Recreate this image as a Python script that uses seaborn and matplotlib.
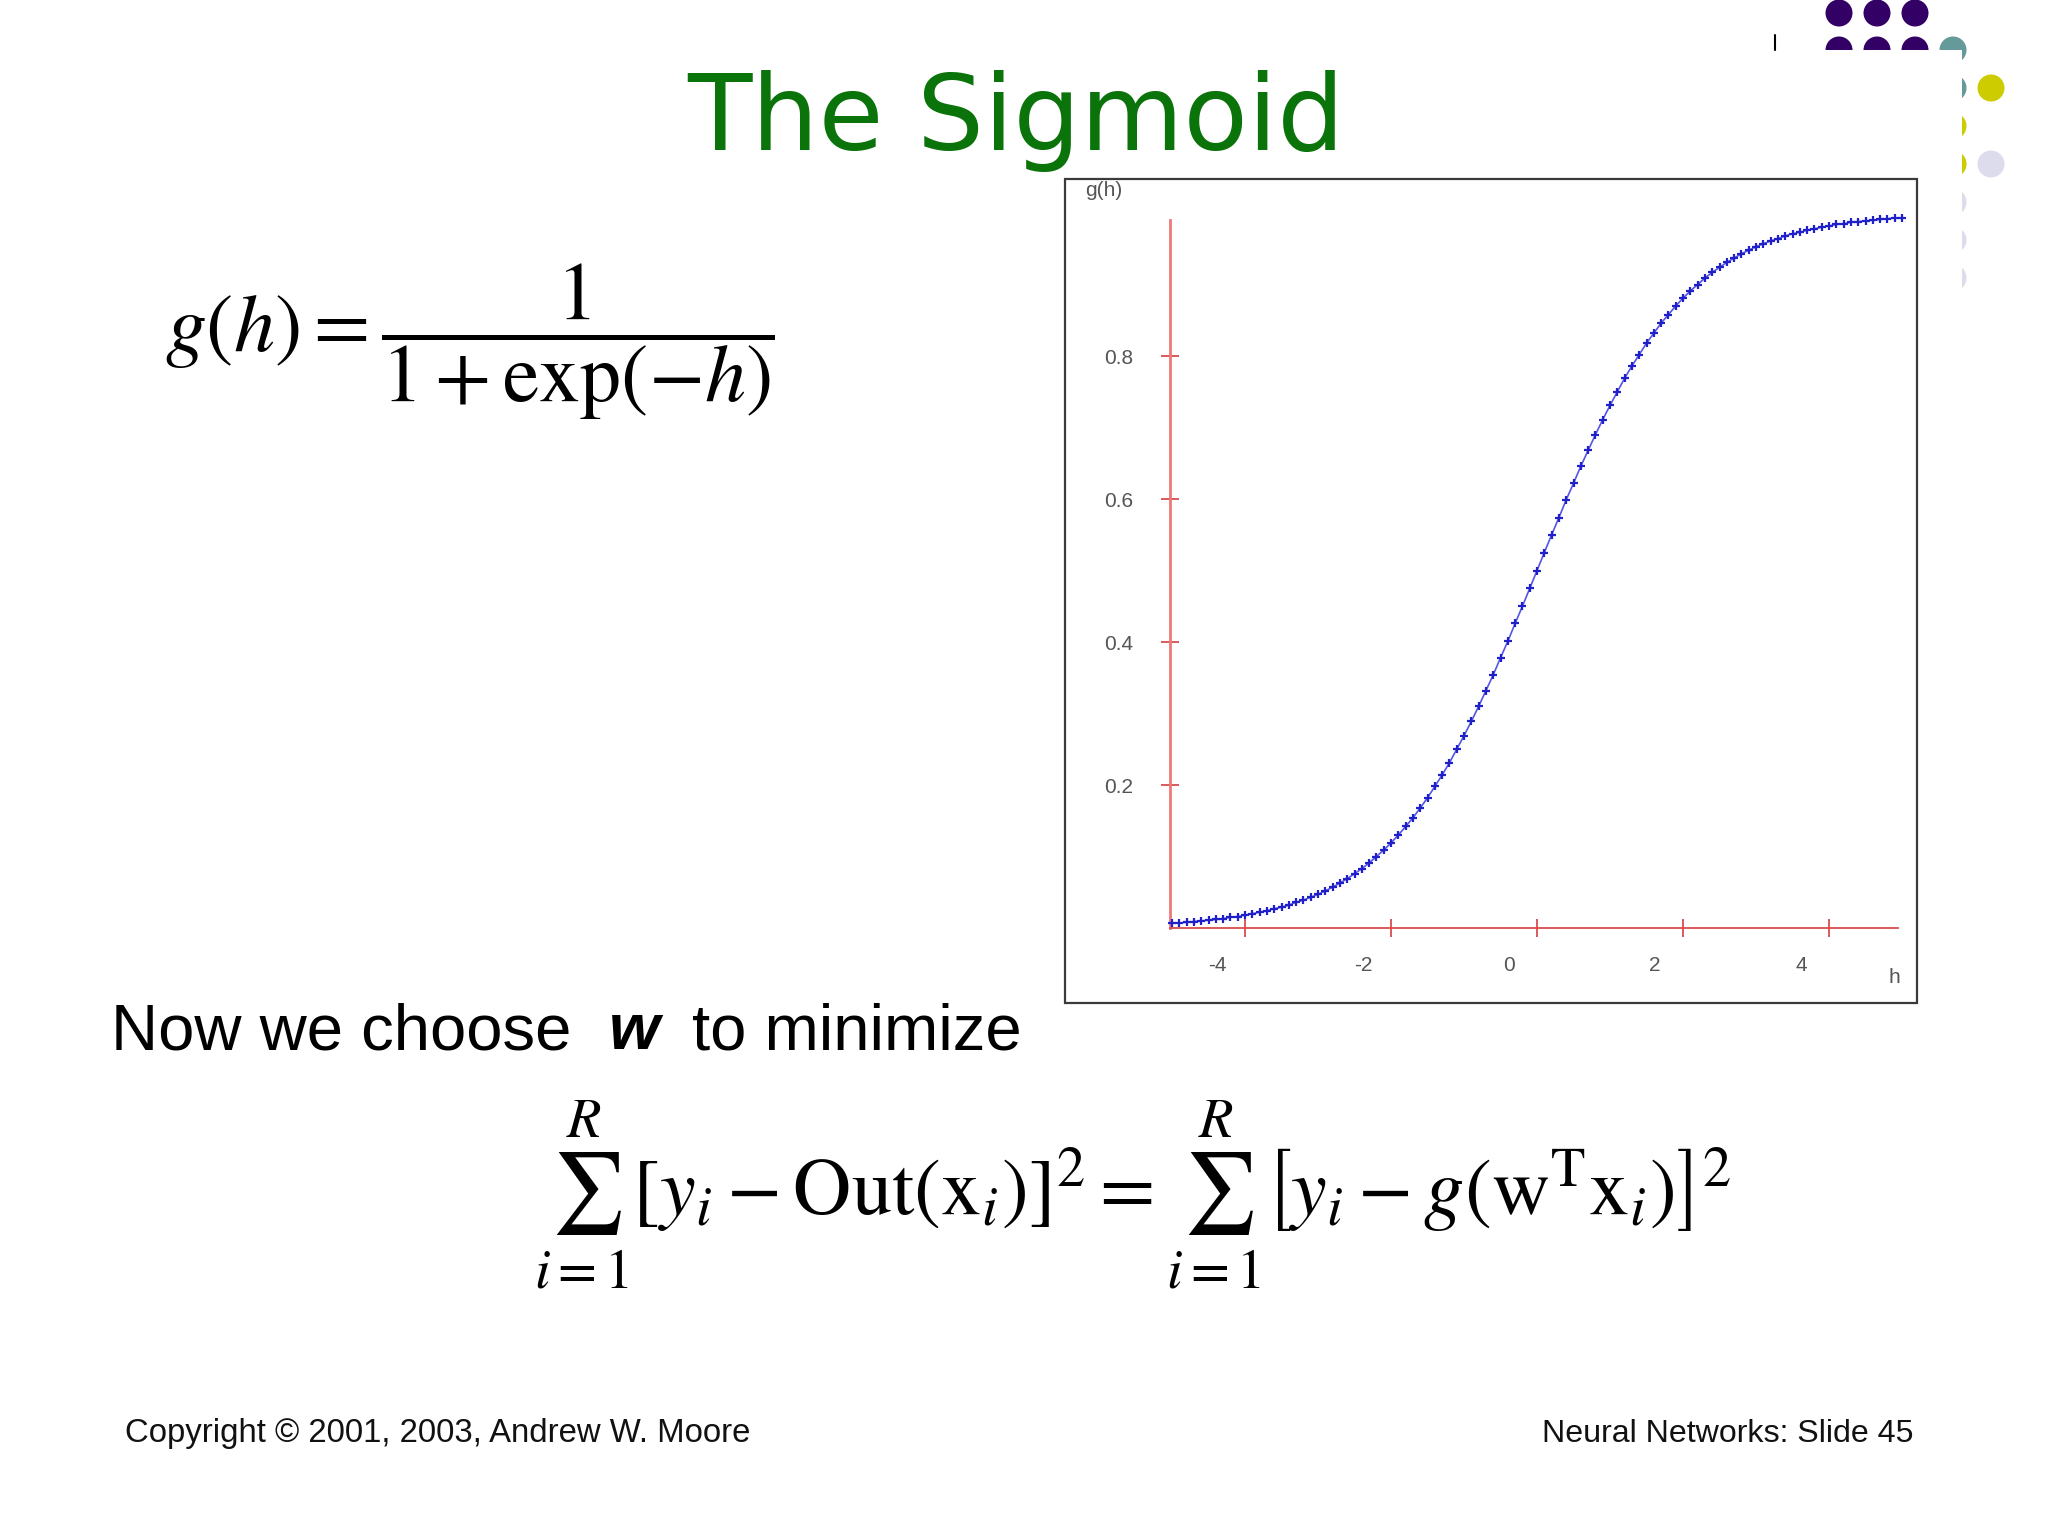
import numpy as np
import pandas as pd
import seaborn as sns
import matplotlib
matplotlib.use('Agg')
import matplotlib.pyplot as plt
from matplotlib.patches import Circle, Rectangle
from matplotlib.transforms import ScaledTranslation

# sigmoid curve, h = -5 .. 5 in steps of 0.1
h_vals = [-5.0, -4.9, -4.8, -4.7, -4.6, -4.5, -4.4, -4.3, -4.2, -4.1,
          -4.0, -3.9, -3.8, -3.7, -3.6, -3.5, -3.4, -3.3, -3.2, -3.1,
          -3.0, -2.9, -2.8, -2.7, -2.6, -2.5, -2.4, -2.3, -2.2, -2.1,
          -2.0, -1.9, -1.8, -1.7, -1.6, -1.5, -1.4, -1.3, -1.2, -1.1,
          -1.0, -0.9, -0.8, -0.7, -0.6, -0.5, -0.4, -0.3, -0.2, -0.1,
          0.0, 0.1, 0.2, 0.3, 0.4, 0.5, 0.6, 0.7, 0.8, 0.9,
          1.0, 1.1, 1.2, 1.3, 1.4, 1.5, 1.6, 1.7, 1.8, 1.9,
          2.0, 2.1, 2.2, 2.3, 2.4, 2.5, 2.6, 2.7, 2.8, 2.9,
          3.0, 3.1, 3.2, 3.3, 3.4, 3.5, 3.6, 3.7, 3.8, 3.9,
          4.0, 4.1, 4.2, 4.3, 4.4, 4.5, 4.6, 4.7, 4.8, 4.9, 5.0]
g_vals = [0.007, 0.007, 0.008, 0.009, 0.010, 0.011, 0.012, 0.013, 0.015, 0.016,
          0.018, 0.020, 0.022, 0.024, 0.027, 0.029, 0.032, 0.036, 0.039, 0.043,
          0.047, 0.052, 0.057, 0.063, 0.069, 0.076, 0.083, 0.091, 0.100, 0.109,
          0.119, 0.130, 0.142, 0.154, 0.168, 0.182, 0.198, 0.214, 0.231, 0.250,
          0.269, 0.289, 0.310, 0.332, 0.354, 0.378, 0.401, 0.426, 0.450, 0.475,
          0.500, 0.525, 0.550, 0.574, 0.599, 0.622, 0.646, 0.668, 0.690, 0.711,
          0.731, 0.750, 0.769, 0.786, 0.802, 0.818, 0.832, 0.846, 0.858, 0.870,
          0.881, 0.891, 0.900, 0.909, 0.917, 0.924, 0.931, 0.937, 0.943, 0.948,
          0.953, 0.957, 0.961, 0.964, 0.968, 0.971, 0.973, 0.976, 0.978, 0.980,
          0.982, 0.984, 0.985, 0.987, 0.988, 0.989, 0.990, 0.991, 0.992, 0.993, 0.993]

x_ticks = [-4, -2, 0, 2, 4]
x_labels = ['-4', '-2', '0', '2', '4']
y_ticks = [0.2, 0.4, 0.6, 0.8]
y_labels = ['0.2', '0.4', '0.6', '0.8']

title = 'The Sigmoid'
footer_left = 'Copyright \u00a9 2001, 2003, Andrew W. Moore'
footer_right = 'Neural Networks: Slide 45'

sns.set_style('white')
plt.rcParams['font.family'] = ['Liberation Sans', 'DejaVu Sans']
plt.rcParams['mathtext.fontset'] = 'stix'
plt.rcParams['axes.unicode_minus'] = False
plt.rcParams['text.color'] = 'black'

fig = plt.figure(figsize=(20.48, 15.36), dpi=100)

# slide background, in pixel coords
bg = fig.add_axes([0, 0, 1, 1])
bg.set_xlim(0, 2048)
bg.set_ylim(1536, 0)
bg.axis('off')

# corner dots
purple, teal, yellow, lav = '#330066', '#669999', '#cccc00', '#dcdcec'
cols = [1839, 1877, 1915, 1953, 1991]
rows = [13, 50, 88, 126, 164, 202, 240, 278]
dots = [(0, 0, purple), (1, 0, purple), (2, 0, purple),
        (0, 1, purple), (1, 1, purple), (2, 1, purple), (3, 1, teal),
        (3, 2, teal), (4, 2, yellow), (3, 3, yellow),
        (3, 4, yellow), (4, 4, lav), (3, 5, lav), (3, 6, lav), (3, 7, lav)]
for c, r, col in dots:
    bg.add_patch(Circle((cols[c], rows[r]), 13.5, color=col, lw=0))
bg.add_patch(Rectangle((0, 50), 1962, 1500, color='white', lw=0))
bg.plot([1775, 1775], [35, 50], color='black', lw=1.5)

bg.text(1016, 150, title, ha='center', va='baseline', fontsize=76,
        color='#0a730a', family='DejaVu Sans')

bg.text(165, 342, r'$g(h)=\dfrac{1}{1+\exp(-h)}$', fontsize=59,
        ha='left', va='center')

bg.text(111, 1049, 'Now we choose', fontsize=47, va='baseline')
bg.text(609, 1049, 'w', fontsize=47, va='baseline', fontweight='bold', style='italic')
bg.text(692, 1049, 'to minimize', fontsize=47, va='baseline')

bg.text(1133, 1195,
        r'$\sum_{i=1}^{R}\left[y_i-\mathrm{Out}(\mathrm{x}_i)\right]^2'
        r'=\sum_{i=1}^{R}\left[y_i-g(\mathrm{w}^{\mathrm{T}}\mathrm{x}_i)\right]^2$',
        ha='center', va='center', fontsize=58)

bg.text(125, 1442, footer_left, fontsize=23.7, va='baseline', color='#111111')
bg.text(1913, 1442, footer_right, fontsize=23.1, va='baseline', ha='right', color='#111111')

# the plot box
ax = fig.add_axes([1065 / 2048, 1 - 1003 / 1536, 852 / 2048, 824 / 1536])
ax.set_facecolor('white')
df = pd.DataFrame({'h': h_vals, 'g': g_vals})
sns.lineplot(data=df, x='h', y='g', ax=ax, color='#2a2ae0', lw=1.2, alpha=0.8)
sns.scatterplot(data=df, x='h', y='g', ax=ax, marker='+', s=30,
                color='#2020c8', linewidth=1.6, zorder=3)

ax.set_xlim(-6.466, 5.205)
ax.set_ylim(-0.1049, 1.0476)
ax.set_xlabel('')
ax.set_ylabel('')

for side in ['top', 'right']:
    ax.spines[side].set_visible(False)
ax.spines['left'].set_position(('data', -5.03))
ax.spines['left'].set_bounds(0, 0.99)
ax.spines['left'].set_color('#f07878')
ax.spines['left'].set_linewidth(2.0)
ax.spines['bottom'].set_position(('data', 0))
ax.spines['bottom'].set_bounds(-5.03, 4.95)
ax.spines['bottom'].set_color('#d84c4c')
ax.spines['bottom'].set_linewidth(1.3)

ax.set_xticks(x_ticks)
ax.set_xticklabels(x_labels)
ax.set_yticks(y_ticks)
ax.set_yticklabels(y_labels)
ax.tick_params(bottom=True, left=True, direction='inout', length=13, width=1.3,
               color='#d84c4c', labelsize=15, labelcolor='#555555')
ax.tick_params(axis='x', pad=13.5)
ax.tick_params(axis='y', pad=20)
shift = ScaledTranslation(-0.28, 0, fig.dpi_scale_trans)
for lab in ax.get_xticklabels():
    lab.set_transform(lab.get_transform() + shift)

ax.add_patch(Rectangle((0, 0), 1, 1, transform=ax.transAxes, fill=False,
                       ec='#3a3a3a', lw=1.6, clip_on=False))
ax.text(0.024, 0.986, 'g(h)', transform=ax.transAxes, fontsize=15,
        color='#555555', va='center')
ax.text(0.974, 0.031, 'h', transform=ax.transAxes, fontsize=15,
        color='#555555', va='center', ha='center')

fig.savefig('out.png', dpi=100, facecolor='white')
